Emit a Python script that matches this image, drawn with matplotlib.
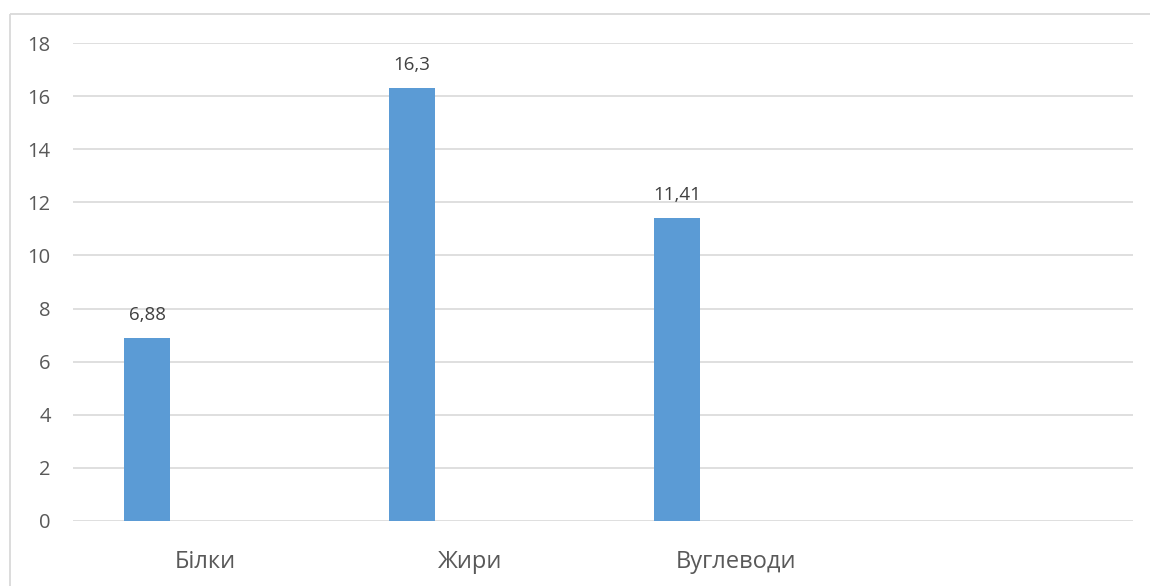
import numpy as np
import matplotlib.pyplot as plt
from matplotlib.lines import Line2D

plt.rcParams['font.family'] = ['Open Sans', 'DejaVu Sans']

categories = ['Білки', 'Жири', 'Вуглеводи', '']
values = [6.88, 16.3, 11.41]
value_labels = ['6,88', '16,3', '11,41']
yticks = [0, 2, 4, 6, 8, 10, 12, 14, 16, 18]

text_color = '#595959'
grid_color = '#D9D9D9'
bar_color = '#5B9BD5'

fig = plt.figure(figsize=(11.5, 5.86), dpi=100)
ax = fig.add_axes([73 / 1150, 1 - 521 / 586, (1133 - 73) / 1150, (521 - 43) / 586])

# outer chart border (only left/top edges visible in the crop)
bx, by = 9.5 / 1150, 1 - 14 / 586
fig.lines.append(Line2D([bx, bx], [-0.1, by], transform=fig.transFigure,
                        color=grid_color, linewidth=1.3, solid_capstyle='butt'))
fig.lines.append(Line2D([bx, 1.1], [by, by], transform=fig.transFigure,
                        color=grid_color, linewidth=1.3, solid_capstyle='butt'))

x = np.arange(len(values))
bars = ax.bar(x - 0.22, values, width=0.174, color=bar_color, zorder=3)

for b, lab in zip(bars, value_labels):
    ax.annotate(lab, (b.get_x() + b.get_width() / 2, b.get_height()),
                xytext=(0, 10), textcoords='offset points',
                ha='center', va='bottom', fontsize=13.5, color='#404040')

ax.set_xlim(-0.5, len(categories) - 0.5)
ax.set_ylim(0, 18)
ax.set_yticks(yticks)
ax.set_xticks(np.arange(len(categories)))
ax.set_xticklabels(categories)

ax.grid(axis='y', color=grid_color, linewidth=1.2, zorder=0)
for s in ax.spines.values():
    s.set_visible(False)
ax.tick_params(axis='y', length=0, pad=16, labelsize=14.5, labelcolor=text_color)
ax.tick_params(axis='x', length=0, pad=21, labelsize=17, labelcolor=text_color)

plt.savefig('out.png', dpi=100)
